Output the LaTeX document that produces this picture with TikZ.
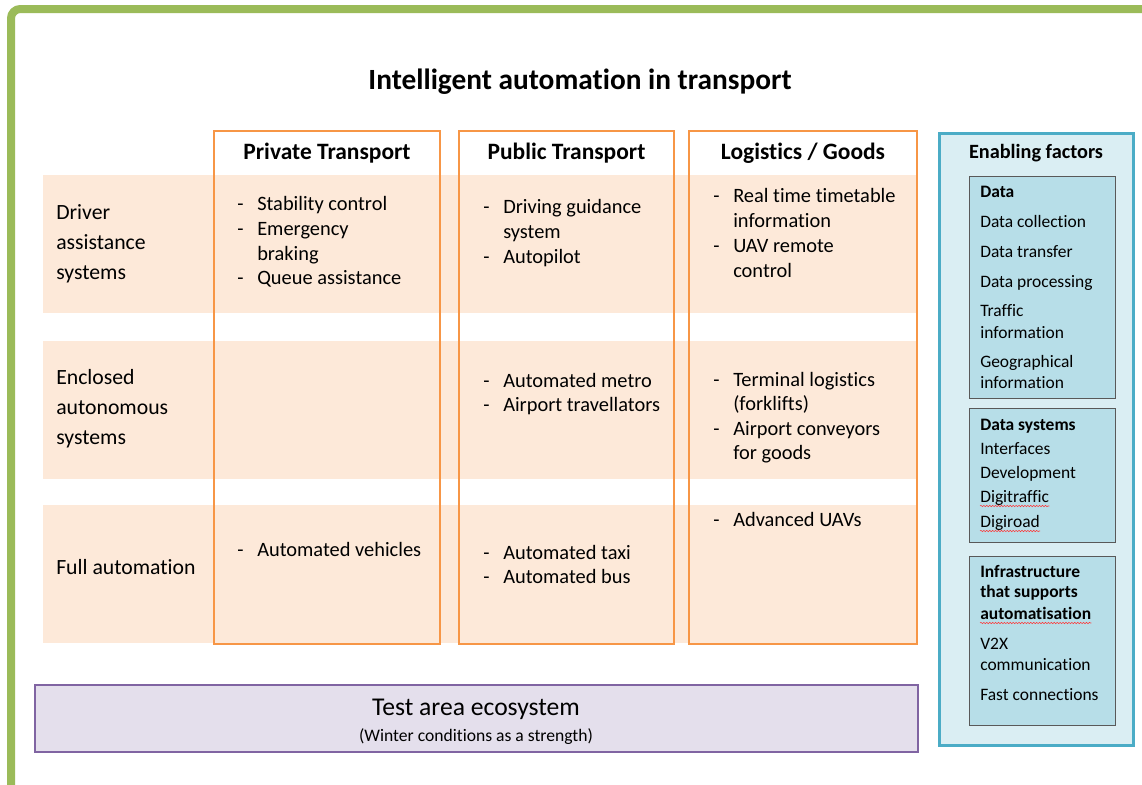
\documentclass[tikz,border=0pt]{standalone}
\usepackage{fontspec}
\setmainfont{Carlito}[Ligatures=NoCommon]
\usetikzlibrary{positioning,decorations.pathmorphing}

\definecolor{frameGreen}{HTML}{9BBB59}
\definecolor{colOrange}{HTML}{F79646}
\definecolor{bandPeach}{HTML}{FDE9D9}
\definecolor{testPurple}{HTML}{8064A2}
\definecolor{testLilac}{HTML}{E4DFEC}
\definecolor{enabTeal}{HTML}{4BACC6}
\definecolor{enabPale}{HTML}{DAEEF3}
\definecolor{enabBlue}{HTML}{B7DEE8}
\definecolor{enabEdge}{HTML}{595959}

\tikzset{
  txt/.style={anchor=base west, inner sep=0pt, text=black},
  item/.style={txt, font=\fontsize{15.3}{18}\selectfont},
  rowlabel/.style={txt, font=\fontsize{16.3}{19}\selectfont},
  colhead/.style={anchor=base, inner sep=0pt, font=\bfseries\fontsize{17.6}{21}\selectfont},
  enab/.style={txt, font=\fontsize{13.1}{15}\selectfont},
  enabhead/.style={enab, font=\bfseries\fontsize{13.1}{15}\selectfont},
  band/.style={fill=bandPeach, draw=none},
  colbox/.style={draw=colOrange, line width=1.6pt},
  enabbox/.style={draw=enabEdge, fill=enabBlue, line width=0.75pt},
  squiggle/.style={draw=red!80, line width=0.4pt,
    decorate, decoration={snake, segment length=2.2pt, amplitude=0.5pt}}
}

\newcommand{\dashitem}[2]{\makebox[15pt][l]{#1}#2}

\begin{document}
\begin{tikzpicture}[x=0.75pt, y=-0.75pt]
    \useasboundingbox (0,0) rectangle (1142,785);

    % outer frame
    \draw[frameGreen, line width=6pt, rounded corners=7] (11,790) |- (1150,9);

    % title
    \node[anchor=base, inner sep=0pt, font=\bfseries\fontsize{22}{26}\selectfont] (title) at (580,89) {Intelligent automation in transport};

    % row bands
    \fill[band] (43,175) rectangle (917,313);
    \fill[band] (43,341) rectangle (917,479);
    \fill[band] (43,505) rectangle (917,643);

    % column boxes
    \draw[colbox] (214,131) rectangle (440,644);
    \draw[colbox] (459,131) rectangle (674,644);
    \draw[colbox] (689,131) rectangle (917,644);

    \node[colhead] (privhead) at (327,159) {Private Transport};
    \node[colhead] (pubhead) at (566.5,159) {Public Transport};
    \node[colhead] (loghead) at (803,159) {Logistics / Goods};

    % row labels
    \foreach \txt/\yy [count=\i] in {Driver/219, assistance/249, systems/279}
        \node[rowlabel] (das-\i) at (56,\yy) {\txt};
    \foreach \txt/\yy [count=\i] in {Enclosed/384, autonomous/414, systems/444}
        \node[rowlabel] (eas-\i) at (56,\yy) {\txt};
    \node[rowlabel] (full) at (56,574) {Full automation};

    % private transport
    \foreach \d/\txt/\yy [count=\i] in {-/Stability control/210.5, -/Emergency/235.5, /braking/260, -/Queue assistance/284.5}
        \node[item] (priva-\i) at (237,\yy) {\dashitem{\d}{\txt}};
    \node[item] (privc-1) at (237,556.5) {\dashitem{-}{Automated vehicles}};

    % public transport
    \foreach \d/\txt/\yy [count=\i] in {-/Driving guidance/213.5, /system/238.5, -/Autopilot/263.5}
        \node[item] (puba-\i) at (483,\yy) {\dashitem{\d}{\txt}};
    \foreach \txt/\yy [count=\i] in {Automated metro/387.5, Airport travellators/411.5}
        \node[item] (pubb-\i) at (483,\yy) {\dashitem{-}{\txt}};
    \foreach \txt/\yy [count=\i] in {Automated taxi/559.5, Automated bus/583.5}
        \node[item] (pubc-\i) at (483,\yy) {\dashitem{-}{\txt}};

    % logistics / goods
    \foreach \d/\txt/\yy [count=\i] in {-/Real time timetable/202.5, /information/227.5, -/UAV remote/252.5, /control/277.5}
        \node[item] (loga-\i) at (713,\yy) {\dashitem{\d}{\txt}};
    \foreach \d/\txt/\yy [count=\i] in {-/Terminal logistics/386.5, /(forklifts)/410.5, -/Airport conveyors/435.5, /for goods/459.5}
        \node[item] (logb-\i) at (713,\yy) {\dashitem{\d}{\txt}};
    \node[item] (logc-1) at (713,526.5) {\dashitem{-}{Advanced UAVs}};

    % test area
    \draw[draw=testPurple, fill=testLilac, line width=1.8pt] (35,685) rectangle (918,752);
    \node[anchor=base, inner sep=0pt, font=\fontsize{19.2}{23}\selectfont] (test) at (476,715) {Test area ecosystem};
    \node[anchor=base, inner sep=0pt, font=\fontsize{13.2}{16}\selectfont] (winter) at (476,741) {(Winter conditions as a strength)};

    % enabling factors
    \draw[draw=enabTeal, fill=enabPale, line width=2.25pt] (939,133) rectangle (1133,745);
    \node[anchor=base, inner sep=0pt, font=\bfseries\fontsize{15.2}{18}\selectfont] (enabhead) at (1036,158) {Enabling factors};

    \draw[enabbox] (969,176) rectangle (1115,398);
    \draw[enabbox] (969,408) rectangle (1115,542);
    \draw[enabbox] (969,556) rectangle (1115,725);

    \node[enabhead] (data) at (980,197) {Data};
    \foreach \txt/\yy [count=\i] in {Data collection/227, Data transfer/257, Data processing/287, Traffic/316, information/338, Geographical/367, information/388}
        \node[enab] (data-\i) at (980,\yy) {\txt};

    \node[enabhead] (dsys) at (980,430) {Data systems};
    \foreach \txt/\yy [count=\i] in {Interfaces/454, Development/478, Digitraffic/502, Digiroad/527}
        \node[enab] (dsys-\i) at (980,\yy) {\txt};

    \foreach \txt/\yy [count=\i] in {Infrastructure/577, that supports/597, automatisation/619}
        \node[enabhead] (infra-\i) at (980,\yy) {\txt};
    \foreach \txt/\yy [count=\i] in {V2X/649, communication/670, Fast connections/700}
        \node[enab] (infra-t\i) at (980,\yy) {\txt};

    % spell-check marks
    \draw[squiggle] ([yshift=-3pt]dsys-3.base west) -- ([yshift=-3pt]dsys-3.base east);
    \draw[squiggle] ([yshift=-3pt]dsys-4.base west) -- ([yshift=-3pt]dsys-4.base east);
    \draw[squiggle] ([yshift=-3pt]infra-3.base west) -- ([yshift=-3pt]infra-3.base east);
\end{tikzpicture}
\end{document}
